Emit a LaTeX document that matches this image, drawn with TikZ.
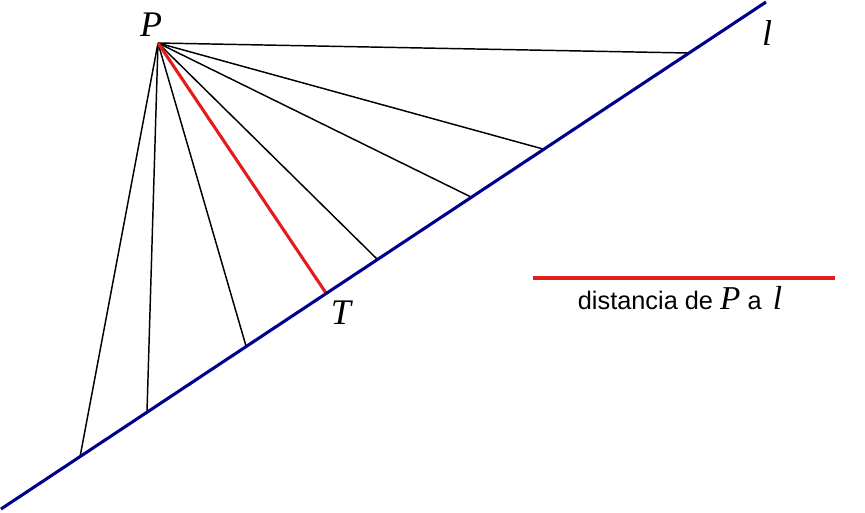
\documentclass[tikz,border=0pt]{standalone}
\usepackage{fontspec}
\setmainfont{Liberation Serif}
\newfontfamily\arialfont{Liberation Sans}
\usepackage{tikz}

\begin{document}
\begin{tikzpicture}[x=0.75pt,y=0.75pt,yscale=-1,xscale=1, scale=1.0, every node/.style={scale=1.0},
	rayo/.style={color={rgb, 255:red, 0; green, 0; blue, 0 }, line width=1.1},
	recta/.style={color={rgb, 255:red, 0; green, 0; blue, 140 }, line width=2.3},
	dist/.style={color={rgb, 255:red, 228; green, 26; blue, 28 }, line width=2.3},
	letra/.style={inner sep=0.75pt, font=\fontsize{27}{30}\selectfont\itshape}]
		\useasboundingbox (0,0) rectangle (865,512);
		
		%Points
		\coordinate (P) at (158,43);
		\coordinate (l0) at (1,509);
		\coordinate (l1) at (766,2);
		\coordinate (A1) at (80,457);
		\coordinate (A2) at (147,412);
		\coordinate (A3) at (246,346);
		\coordinate (T) at (326,293);
		\coordinate (A5) at (377,259);
		\coordinate (A6) at (471,197);
		\coordinate (A7) at (543,149);
		\coordinate (A8) at (688,53);
		
		%Straight Lines
		\draw [rayo] (P) -- (A1) ;
		\draw [rayo] (P) -- (A2) ;
		\draw [rayo] (P) -- (A3) ;
		\draw [rayo] (P) -- (A5) ;
		\draw [rayo] (P) -- (A6) ;
		\draw [rayo] (P) -- (A7) ;
		\draw [rayo] (P) -- (A8) ;
		%Straight Lines
		\draw [dist] (P) -- (T) ;
		%Straight Lines
		\draw [recta] (l0) -- (l1) ;
		
		% Text Node
		\node [letra] (labP) at (151,25) {P};
		% Text Node
		\node [letra] (labl) at (767,33) {l};
		% Text Node
		\node [letra] (labT) at (341,313) {T};
		
		%Straight Lines
		\coordinate (leg0) at (533,278);
		\coordinate (leg1) at (835,278);
		\draw [dist] (leg0) -- (leg1) ;
		% Text Node
		\node [inner sep=0.75pt, anchor=base] (legtext) at (680,309) {\fontsize{19}{22}\selectfont\arialfont distancia de \textit{\fontsize{25}{28}\selectfont\rmfamily P} a\, \textit{\fontsize{25}{28}\selectfont\rmfamily l}};
	\end{tikzpicture}
\end{document}
